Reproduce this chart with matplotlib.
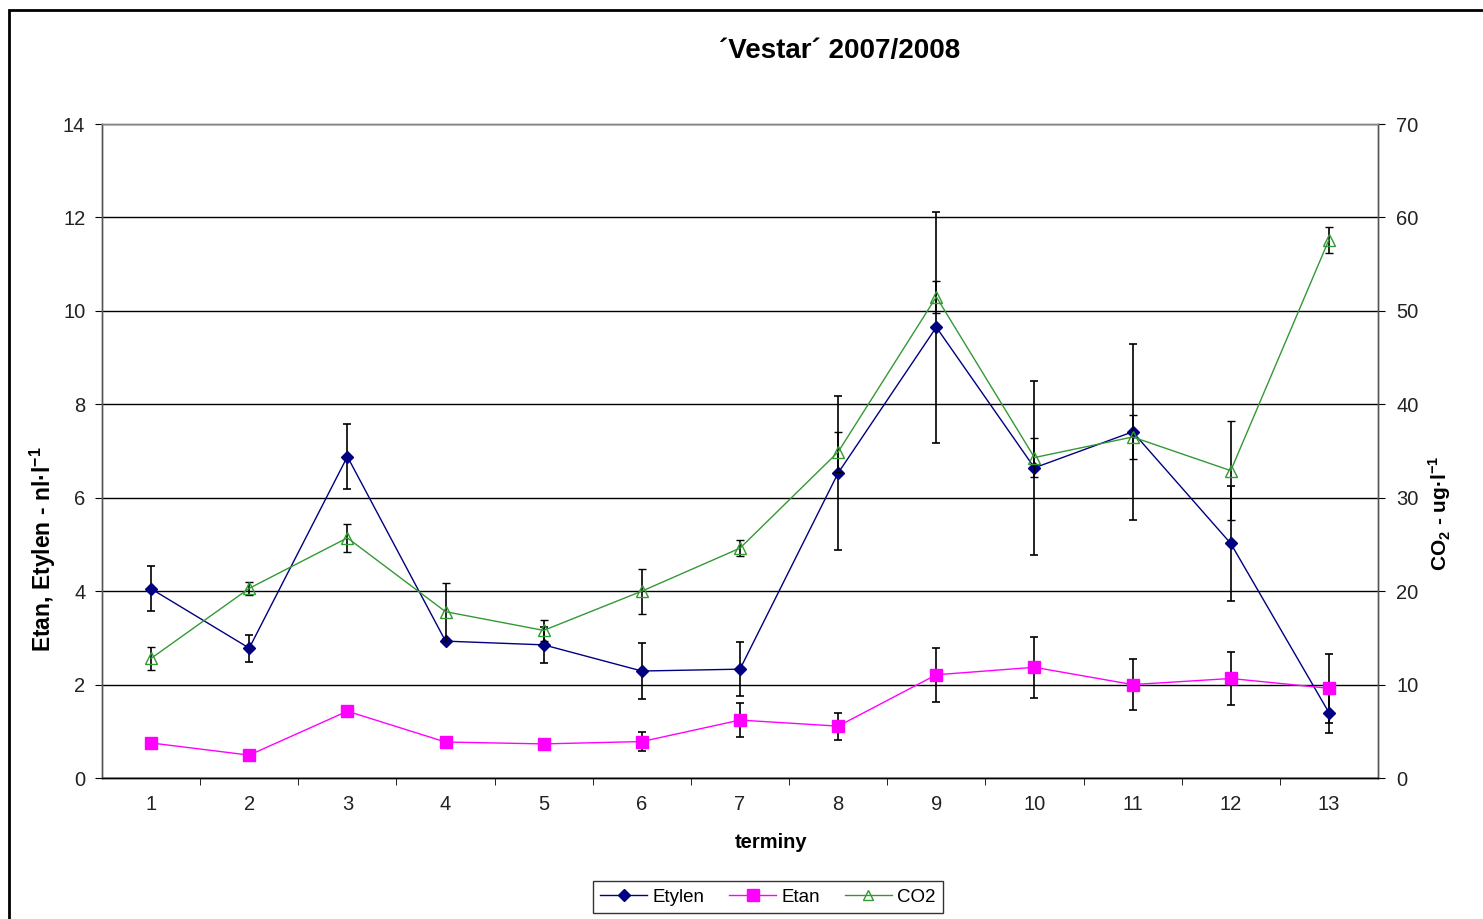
import matplotlib
matplotlib.use("Agg")
import matplotlib.pyplot as plt
from matplotlib.patches import Rectangle
from matplotlib.lines import Line2D

plt.rcParams['font.family'] = ['Liberation Sans', 'DejaVu Sans']
plt.rcParams['mathtext.fontset'] = 'custom'
plt.rcParams['mathtext.rm'] = 'Liberation Sans'
plt.rcParams['mathtext.bf'] = 'Liberation Sans:bold'

# Sampling dates (terminy)
terms = list(range(1, 14))
term_labels = [str(t) for t in terms]

# Ethylene, nl/l
etylen = [4.05, 2.78, 6.88, 2.93, 2.85, 2.29, 2.33, 6.53, 9.65, 6.64, 7.41, 5.02, 1.40]
etylen_err = [0.48, 0.29, 0.70, 0.05, 0.39, 0.60, 0.58, 1.65, 2.47, 1.86, 1.89, 1.23, 0.44]

# Ethane, nl/l
etan = [0.75, 0.49, 1.43, 0.77, 0.73, 0.78, 1.24, 1.11, 2.21, 2.37, 2.00, 2.13, 1.92]
etan_err = [0.03, 0.03, 0.06, 0.03, 0.03, 0.20, 0.36, 0.29, 0.58, 0.65, 0.55, 0.57, 0.74]

# CO2, ug/l
co2 = [12.8, 20.3, 25.7, 17.8, 15.8, 20.0, 24.6, 34.9, 51.5, 34.3, 36.5, 32.9, 57.6]
co2_err = [1.2, 0.7, 1.5, 3.1, 1.1, 2.4, 0.85, 2.1, 1.7, 2.1, 2.4, 5.3, 1.4]

left_ticks = list(range(0, 15, 2))
right_ticks = list(range(0, 71, 10))

fig = plt.figure(figsize=(14.83, 9.19), dpi=100)
W, H = 1483, 919
ax = fig.add_axes([102 / W, 1 - 778 / H, (1378 - 102) / W, (778 - 124) / H])
ax2 = ax.twinx()

# Outer chart border
fig.add_artist(Rectangle((9 / W, -0.05), 1.2, 1 - 10 / H + 0.05, transform=fig.transFigure,
                         fill=False, edgecolor='black', linewidth=2.0))

navy = '#000080'
magenta = '#ff00ff'
green = '#339933'
ekw = dict(ecolor='black', elinewidth=1.2, capsize=3, capthick=1.2)

ax.errorbar(terms, etylen, yerr=etylen_err, color=navy, lw=1.0, marker='D', ms=6,
            mfc=navy, mec=navy, zorder=4, **ekw)
ax.errorbar(terms, etan, yerr=etan_err, color=magenta, lw=1.0, marker='s', ms=8,
            mfc=magenta, mec=magenta, zorder=4, **ekw)
ax2.errorbar(terms, co2, yerr=co2_err, color=green, lw=1.0, marker='^', ms=8,
             mfc='none', mec=green, mew=1.0, zorder=4, **ekw)

ax.set_xlim(0.5, 13.5)
ax.set_ylim(0, 14)
ax2.set_ylim(0, 70)
ax.set_yticks(left_ticks)
ax2.set_yticks(right_ticks)
ax.set_xticks(terms)
ax.set_xticklabels(term_labels)
ax.set_xticks([t + 0.5 for t in terms[:-1]], minor=True)
ax.tick_params(axis='x', which='major', length=0, pad=12, labelsize=14.5, labelcolor='#222222')
ax.tick_params(axis='x', which='minor', length=5, direction='out', color='black')
ax.tick_params(axis='y', length=5, direction='out', labelsize=14.5, labelcolor='#222222', pad=7)
ax2.tick_params(axis='y', length=5, direction='out', labelsize=14.5, labelcolor='#222222', pad=8)

ax.yaxis.grid(True, color='black', lw=1.0)
ax.set_axisbelow(True)
for a in (ax, ax2):
    a.spines['left'].set_color('#555555')
    a.spines['right'].set_color('#555555')
    a.spines['top'].set_color('#888888')
    a.spines['bottom'].set_color('black')
    for s in a.spines.values():
        s.set_linewidth(1.0)

fig.text(840 / W, 1 - 51 / H, '´Vestar´ 2007/2008', ha='center', va='center',
         fontsize=20, fontweight='bold')
fig.text(43 / W, 1 - 549 / H, r'Etan, Etylen - nl·l$^{\mathbf{-1}}$', rotation=90,
         ha='center', va='center', fontsize=16.5, fontweight='bold')
fig.text(1440 / W, 1 - 513 / H, r'CO$_{\mathbf{2}}$ - ug·l$^{\mathbf{-1}}$', rotation=90,
         ha='center', va='center', fontsize=15, fontweight='bold')
fig.text(771 / W, 1 - 843 / H, 'terminy', ha='center', va='center',
         fontsize=14.5, fontweight='bold')

handles = [
    Line2D([], [], color=navy, lw=1.0, marker='D', ms=6, mfc=navy, mec=navy),
    Line2D([], [], color=magenta, lw=1.0, marker='s', ms=8, mfc=magenta, mec=magenta),
    Line2D([], [], color=green, lw=1.0, marker='^', ms=7, mfc='none', mec=green),
]
leg = fig.legend(handles, ['Etylen', 'Etan', 'CO2'], loc='center',
                 bbox_to_anchor=(768 / W, 1 - 897 / H), ncol=3, frameon=True,
                 fancybox=False, edgecolor='black', fontsize=13.5, handlelength=2.5,
                 columnspacing=1.3, handletextpad=0.3, borderpad=0.4)
leg.get_frame().set_linewidth(1.0)

fig.savefig('out.png', dpi=100)
